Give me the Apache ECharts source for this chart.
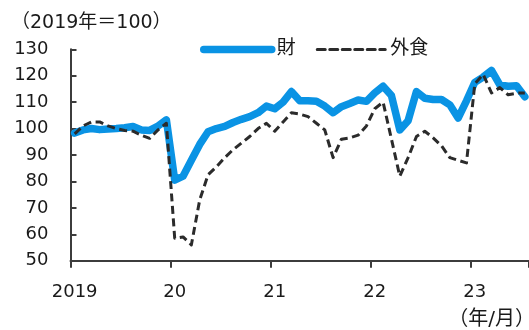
<!DOCTYPE html>
<html>
<head>
<meta charset="utf-8">
<script src="https://cdn.jsdelivr.net/npm/echarts@6/dist/echarts.min.js"></script>
<style>
  html, body { margin: 0; padding: 0; background: #ffffff; }
  #chart { width: 529px; height: 330px; }
</style>
</head>
<body>
<div id="chart"></div>
<script>
// Monthly index, 2019 average = 100, Jan 2019 – Jul 2023
const years = [2019, 2020, 2021, 2022, 2023];
const monthsInLastYear = 7;
const yearLabels = ['2019', '20', '21', '22', '23'];
const seriesNames = ['財', '外食'];
const unitTitle = '（2019年＝100）';
const periodNote = '（年/月）';

// 財 (goods)
const goods = [
  98.3, 99.5, 100.0, 99.6, 99.8, 100.0, 100.3, 100.8, 99.5, 99.3, 101.0, 103.3,
  80.5, 82.0, 88.0, 94.0, 98.8, 100.0, 100.8, 102.3, 103.5, 104.5, 106.0, 108.5,
  107.5, 110.0, 114.0, 110.5, 110.5, 110.3, 108.5, 106.0, 108.3, 109.5, 110.8, 110.3,
  113.5, 116.0, 112.5, 99.5, 103.0, 114.0, 111.5, 111.0, 111.0, 109.0, 104.0, 110.5,
  117.5, 119.5, 122.0, 116.5, 116.0, 116.2, 112.0
];

// 外食 (dining out)
const dining = [
  98.0, 101.0, 102.5, 102.5, 101.0, 100.0, 99.3, 99.0, 97.5, 96.3, 99.5, 102.0,
  58.5, 59.0, 56.0, 73.0, 82.5, 85.5, 89.0, 92.0, 94.5, 97.0, 100.0, 102.0,
  99.0, 102.5, 106.0, 105.5, 104.5, 102.0, 99.5, 89.0, 96.0, 96.5, 97.5, 101.0,
  107.5, 110.0, 96.0, 82.0, 89.0, 97.0, 99.0, 96.5, 93.5, 89.0, 88.0, 87.0,
  117.0, 120.5, 113.5, 115.5, 112.8, 113.4, 113.5
];

const months = [];
years.forEach(function (y, k) {
  const n = k === years.length - 1 ? monthsInLastYear : 12;
  for (let m = 1; m <= n; m++) months.push(y + '/' + m);
});

const FONT = "'DejaVu Sans', 'Noto Sans CJK JP', sans-serif";
const INK = '#1a1a1a';
const AXIS = '#3c3c3c';
const BLUE = '#0A93E4';
const DASH = '#2b2b2b';

const chart = echarts.init(document.getElementById('chart'), null, { renderer: 'canvas' });

chart.setOption({
  animation: false,
  backgroundColor: '#ffffff',
  textStyle: { fontFamily: FONT, color: INK },
  grid: { left: 70.5, top: 49.3, width: 463, height: 211.4, containLabel: false },
  title: {
    text: unitTitle,
    left: 6,
    top: 9,
    textStyle: { fontFamily: FONT, fontSize: 19, fontWeight: 'normal', color: INK }
  },
  legend: {
    data: seriesNames,
    left: 195,
    top: 35,
    itemWidth: 68,
    itemHeight: 16,
    itemGap: 20,
    itemStyle: { opacity: 0 },
    lineStyle: { width: 'inherit', cap: 'round' },
    textStyle: { fontFamily: FONT, fontSize: 19, color: INK }
  },
  graphic: [{
    type: 'text',
    right: -6,
    top: 310,
    style: { text: periodNote, font: '20px ' + FONT, fill: INK }
  }],
  xAxis: {
    type: 'category',
    data: months,
    boundaryGap: true,
    axisLine: { show: true, lineStyle: { color: AXIS, width: 2 } },
    axisTick: { show: true, interval: 11, inside: false, length: 7, lineStyle: { color: AXIS, width: 2 } },
    axisLabel: {
      interval: 11,
      margin: 23,
      fontFamily: FONT,
      fontSize: 18,
      color: INK,
      formatter: function (value) {
        const parts = value.split('/');
        return parts[1] === '1' ? yearLabels[years.indexOf(+parts[0])] : '';
      }
    },
    splitLine: { show: false }
  },
  yAxis: {
    type: 'value',
    min: 50,
    max: 130,
    interval: 10,
    axisLine: { show: true, lineStyle: { color: AXIS, width: 2 } },
    axisTick: { show: true, inside: true, length: 6, lineStyle: { color: AXIS, width: 2 } },
    axisLabel: { margin: 22, fontFamily: FONT, fontSize: 18, color: INK },
    splitLine: { show: false }
  },
  series: [
    {
      name: seriesNames[0],
      type: 'line',
      data: goods,
      symbol: 'none',
      showSymbol: false,
      z: 2,
      color: BLUE,
      lineStyle: { color: BLUE, width: 7.5, cap: 'round', join: 'round' }
    },
    {
      name: seriesNames[1],
      type: 'line',
      data: dining,
      symbol: 'none',
      showSymbol: false,
      z: 3,
      color: DASH,
      lineStyle: { color: DASH, width: 3, type: [8, 4.5], join: 'round' }
    }
  ]
});
</script>
</body>
</html>
